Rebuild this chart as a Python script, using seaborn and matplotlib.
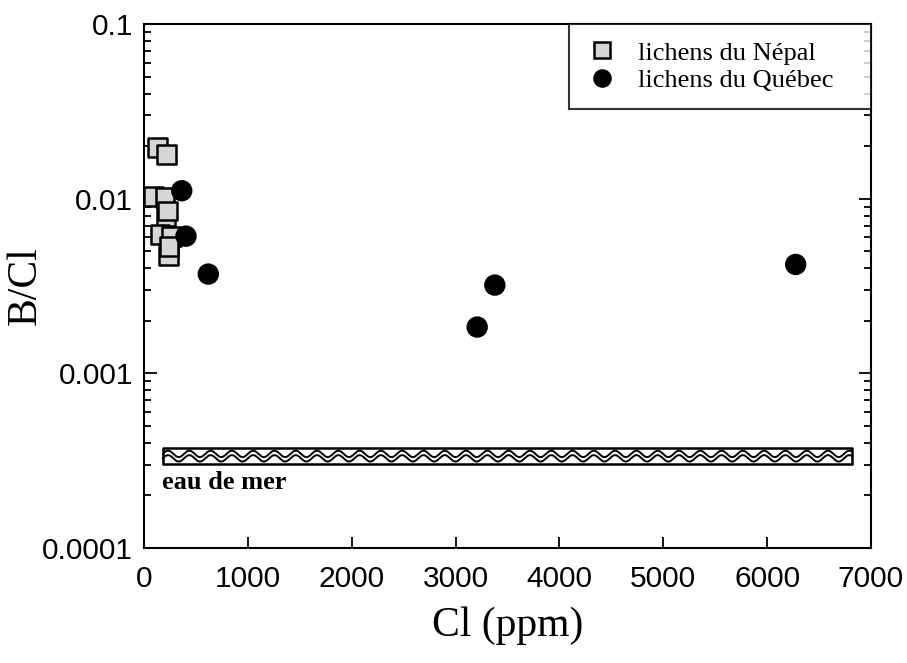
import matplotlib.pyplot as plt
import numpy as np
import pandas as pd
import seaborn as sns

# B/Cl ratios in lichens vs Cl content
nepal_cl = [128, 218, 90, 202, 212, 230, 154, 266, 234, 240]
nepal_bcl = [0.0196, 0.0180, 0.0103, 0.0102, 0.0079, 0.0085, 0.0062, 0.0061, 0.0047, 0.0053]
quebec_cl = [363, 404, 619, 3378, 3208, 6275]
quebec_bcl = [0.0111, 0.0061, 0.0037, 0.0032, 0.00184, 0.0042]
group_names = ['lichens du Népal', 'lichens du Québec']

# seawater B/Cl range (hatched band)
seawater_bcl = (0.000302, 0.000373)
seawater_cl = (180, 6814)

sns.set_style('ticks')
plt.rcParams['font.family'] = ['Liberation Sans', 'DejaVu Sans']
plt.rcParams.update({'text.color': 'black', 'axes.labelcolor': 'black',
                     'xtick.color': 'black', 'ytick.color': 'black', 'axes.edgecolor': 'black'})
serif = ['Liberation Serif', 'DejaVu Serif']

df = pd.DataFrame({
    'Cl': nepal_cl + quebec_cl,
    'BCl': nepal_bcl + quebec_bcl,
    'groupe': [group_names[0]] * len(nepal_cl) + [group_names[1]] * len(quebec_cl),
})

fig, ax = plt.subplots(figsize=(9.07, 6.63), dpi=100)
fig.subplots_adjust(left=0.1588, right=0.9603, top=0.9638, bottom=0.1735)

# seawater band with a wavy texture
ax.fill_between(seawater_cl, seawater_bcl[0], seawater_bcl[1], facecolor='white',
                edgecolor='black', linewidth=1.8, zorder=2)
lo, hi = np.log10(seawater_bcl)
mid = (lo + hi) / 2
amp = (hi - lo) * 0.2
xs = np.linspace(seawater_cl[0], seawater_cl[1], 1500)
phase = 2 * np.pi * (xs - seawater_cl[0]) / 205
for off in (+0.14, -0.14):
    ax.plot(xs, 10 ** (mid + off * (hi - lo) + amp * np.sin(phase)), color='black', lw=1.4, zorder=3)
ax.text(seawater_cl[0] - 10, 0.000236, 'eau de mer', family=serif, fontweight='bold',
        fontsize=19, va='center', ha='left')

sns.scatterplot(data=df, x='Cl', y='BCl', hue='groupe', style='groupe',
                markers={group_names[0]: 's', group_names[1]: 'o'},
                palette={group_names[0]: '#d6d6d6', group_names[1]: 'black'},
                edgecolor='black', linewidth=1.8, s=185, ax=ax, zorder=4)

ax.set_yscale('log')
ax.set_xlim(0, 7000)
ax.set_ylim(0.0001, 0.1)
ax.set_xticks(range(0, 7001, 1000))
ax.set_yticks([0.0001, 0.001, 0.01, 0.1])
ax.set_yticklabels(['0.0001', '0.001', '0.01', '0.1'])
ax.tick_params(axis='both', which='both', direction='in', labelsize=21.5, width=1.3)
ax.tick_params(axis='y', which='major', length=9, right=True, pad=8)
ax.tick_params(axis='y', which='minor', length=5, right=True)
ax.tick_params(axis='x', which='major', length=8, top=False, pad=12)
for sp in ax.spines.values():
    sp.set_linewidth(1.5)
    sp.set_visible(True)

ax.set_xlabel('Cl (ppm)', family=serif, fontsize=30, labelpad=10)
ax.set_ylabel('B/Cl', family=serif, fontsize=30)
ax.yaxis.set_label_coords(-0.137, 0.5)

handles, labels = ax.get_legend_handles_labels()
labels = [lab + '   ' for lab in labels]  # extra room on the right like the original box
leg = ax.legend(handles, labels, loc='upper right', borderaxespad=0, frameon=True,
                fancybox=False, prop={'family': serif, 'size': 19}, handletextpad=0.8,
                handlelength=1.2, labelspacing=0.15, borderpad=0.65, markerscale=0.85)
leg.get_frame().set_edgecolor('black')
leg.get_frame().set_linewidth(1.5)

fig.savefig('out.png', dpi=100)
